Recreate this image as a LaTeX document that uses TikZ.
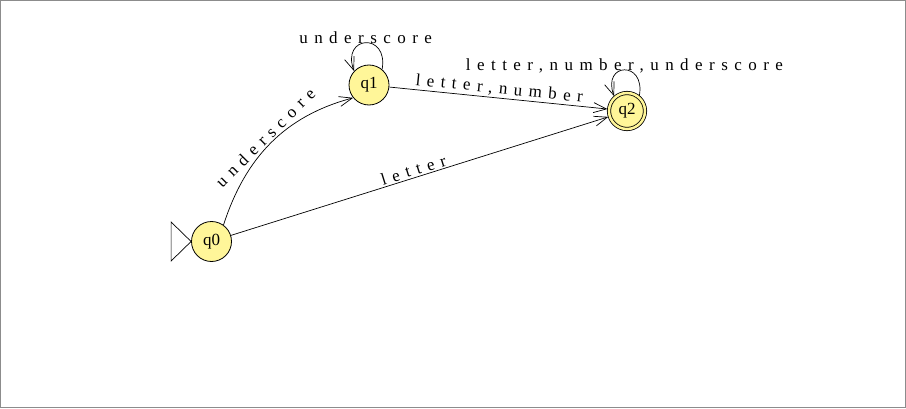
\documentclass[tikz,border=0pt]{standalone}
\usepackage{fontspec}
\setmainfont{Liberation Serif}
\newfontfamily\lblfont[LetterSpace=38]{Liberation Serif}
\usetikzlibrary{arrows.meta}
\definecolor{stfill}{RGB}{255,246,153}
\definecolor{framegray}{RGB}{140,140,140}
\begin{document}
\begin{tikzpicture}[x=1pt,y=1pt,
  state/.style={circle,draw,fill=stfill,minimum size=40pt,inner sep=0pt,
    font=\fontsize{17}{17}\selectfont,line width=0.8pt},
  accept/.style={state,minimum size=36pt,double=stfill,double distance=2.5pt,outer sep=1.65pt},
  edge/.style={draw,line width=0.7pt,-{Straight Barb[length=13pt,width=10pt]}},
  lbl/.style={font=\lblfont\fontsize{17}{17}\selectfont,inner sep=1.5pt}]
\useasboundingbox (0,0) rectangle (906,408);
\draw[framegray,line width=1pt] (0.5,0.5) rectangle (905.5,407.5);

\node[state] (q0) at (211.5,166.5) {q0};
\node[state] (q1) at (369,323) {q1};
\node[accept] (q2) at (627,297) {q2};

% start marker
\draw[line width=0.7pt,fill=white] (q0.west) -- ++(-20,19.5) -- ++(0,-39) -- cycle;

\draw[edge] (q0.54) to[out=72,in=195] node[lbl,sloped,above,pos=0.5]{underscore} (q1.219);
\draw[edge] (q1) -- node[lbl,sloped,above]{letter,number} (q2);
\draw[edge] (q0) -- node[lbl,sloped,above,pos=0.49]{letter} (q2);

\draw[edge] (q1.50) .. controls +(80:38) and +(110:38) .. node[lbl,anchor=base,inner sep=0pt,yshift=-0.5pt]{underscore} (q1.137);
\draw[edge] (q2.51) .. controls +(80:36) and +(110:36) .. node[lbl,anchor=base,inner sep=0pt,yshift=-1pt]{letter,number,underscore} (q2.131);
\end{tikzpicture}
\end{document}
